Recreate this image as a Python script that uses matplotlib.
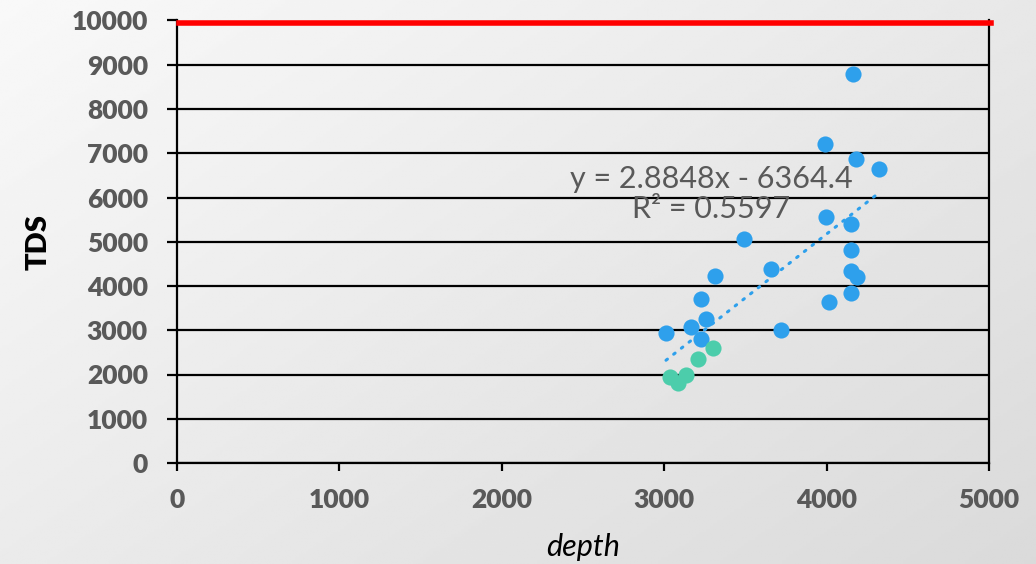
import matplotlib
matplotlib.use("Agg")
import matplotlib.pyplot as plt
import numpy as np

# data
depth_blue = [3990, 4179, 4325, 3994, 4148, 3491, 4150, 3656, 3315, 4150,
              4185, 3228, 4148, 4015, 3256, 3165, 3011, 3721, 3225, 4161]
tds_blue = [7217, 6878, 6652, 5560, 5395, 5072, 4808, 4379, 4228, 4334,
            4205, 3702, 3844, 3628, 3244, 3063, 2928, 3009, 2799, 8781]
depth_green = [3036, 3087, 3132, 3206, 3302]
tds_green = [1948, 1799, 1986, 2348, 2589]
slope, intercept = 2.8848, -6364.4
r2 = 0.5597
limit_tds = 9940

x_ticks = [0, 1000, 2000, 3000, 4000, 5000]
y_ticks = list(range(0, 10001, 1000))

W, H = 1036, 564
fig = plt.figure(figsize=(W / 100, H / 100), dpi=100)

# background gradient
bg = fig.add_axes([0, 0, 1, 1], zorder=-10)
yy, xx = np.mgrid[0:1:200j, 0:1:300j]
shade = 0.975 - 0.12 * (0.55 * xx + 0.45 * yy)
bg.imshow(shade, cmap="gray", vmin=0, vmax=1, aspect="auto", extent=[0, 1, 0, 1])
bg.axis("off")

ax = fig.add_axes([177 / W, 1 - 463 / H, 812 / W, 442.5 / H])
ax.patch.set_alpha(0)

ax.set_xlim(0, 5000)
ax.set_ylim(0, 10000)
ax.set_xticks(x_ticks)
ax.set_yticks(y_ticks)
ax.grid(axis="y", color="black", linewidth=1.6, zorder=0)
ax.set_axisbelow(True)

for side in ["left", "bottom", "right"]:
    ax.spines[side].set_color("black")
    ax.spines[side].set_linewidth(1.6)
ax.spines["top"].set_visible(False)

ax.tick_params(axis="y", length=7, width=1.6, pad=14, labelsize=19,
               labelcolor="#595959")
ax.tick_params(axis="x", length=6, width=1.6, pad=12, labelsize=19,
               labelcolor="#595959")
for lab in ax.get_xticklabels() + ax.get_yticklabels():
    lab.set_fontfamily("Lato")
    lab.set_fontweight("heavy")

ax.axhline(limit_tds, xmin=0.002, xmax=1.003, color="#ff0000", linewidth=4,
           zorder=3, clip_on=False)

ax.scatter(depth_blue, tds_blue, s=135, color="#2EA0EC", zorder=4, linewidths=0)
ax.scatter(depth_green, tds_green, s=135, color="#4CCDAB", zorder=4, linewidths=0)

xs = np.array([min(depth_blue), max(depth_blue)])
ax.plot(xs, slope * xs + intercept, color="#2EA0EC", linewidth=2.2,
        linestyle=(0, (0.6, 2.6)), dash_capstyle="round", zorder=3)

ax.text(3288, 6072, "y = 2.8848x - 6364.4\nR² = 0.5597", ha="center",
        va="center", fontsize=22, color="#595959", family="Lato",
        linespacing=1.1, zorder=5)

ax.set_ylabel("TDS", fontsize=21, fontweight="heavy", family="Lato",
              color="black", labelpad=14)
ax.set_xlabel("depth", fontsize=22, style="italic", family="Lato",
              color="black", labelpad=15)

fig.savefig("out.png", dpi=100)
